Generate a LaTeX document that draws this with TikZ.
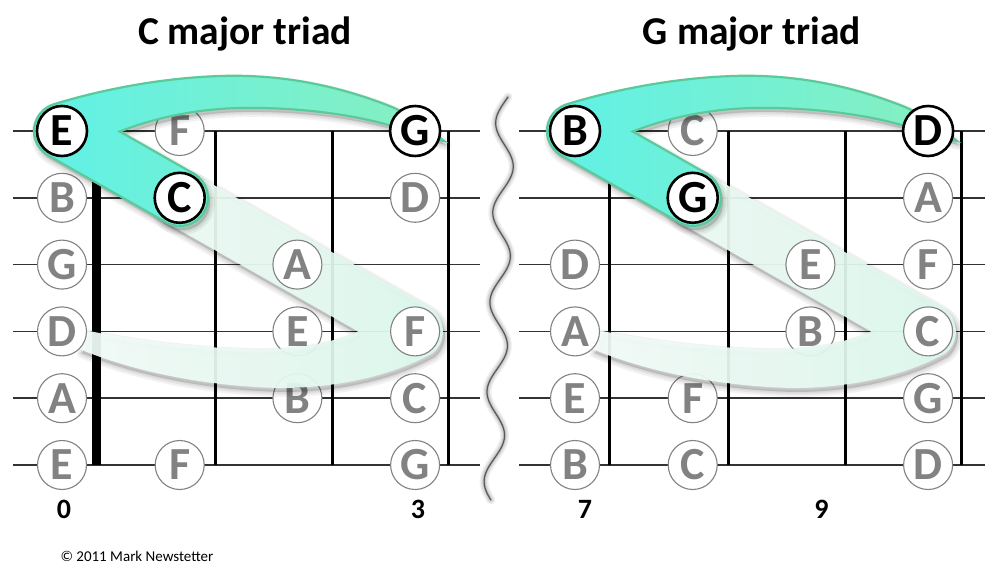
\documentclass[tikz,border=0pt]{standalone}
\usepackage{fontspec}
\setmainfont{Carlito}
\definecolor{bandcyan}{HTML}{5FF1E8}
\definecolor{bandmint}{HTML}{88EFBE}
\definecolor{bandedge}{HTML}{5CC99A}
\definecolor{palemintL}{HTML}{F4FDF9}
\definecolor{palemintR}{HTML}{DCF9EC}
\definecolor{notegray}{HTML}{828282}
\tikzset{
  title/.style={font=\fontsize{39.5}{40}\selectfont\bfseries,anchor=base},
  note/.style={circle,minimum size=49pt,inner sep=0pt,fill=white,draw=notegray,
               line width=1.1pt,text=notegray,font=\fontsize{46}{46}\selectfont\bfseries},
  chordnote/.style={note,minimum size=50pt,draw=black,line width=2.6pt,text=black},
  string/.style={line width=1.6pt,black!80},
  fret/.style={line width=3pt},
  nut/.style={line width=9pt},
  fretnum/.style={font=\fontsize{28}{28}\selectfont\bfseries,anchor=base},
  bandshadow/.style={draw=black,fill=black,opacity=0.05,line join=round},
  tealband/.style={left color=bandcyan,right color=bandmint,draw=bandedge,line width=2.2pt},
  paleband/.style={left color=palemintL,right color=palemintR,opacity=0.93},
}
\begin{document}
\begin{tikzpicture}[x=1pt,y=-1pt]
  \useasboundingbox (0,0) rectangle (999,575);
  % ribbon outlines, board coordinates (y downwards)
  \def\tealpath{(444,141) .. controls (425,126) and (408,113) .. (387,105)
    .. controls (335,85) and (280,74) .. (220,76)
    .. controls (160,78) and (100,90) .. (53.3,104.4)
    arc[start angle=252,end angle=119.6,radius=28] -- (166.2,222.4)
    arc[start angle=119.6,end angle=-60.4,radius=28] -- (119.7,131.5)
    .. controls (160,116) and (200,109) .. (240,108)
    .. controls (300,107) and (355,115) .. (392,126)
    .. controls (415,133) and (432,139) .. (444,141) -- cycle}
  \def\palepath{(193.8,173.6) -- (428.8,307.1)
    arc[start angle=-60.4,end angle=50,radius=28]
    .. controls (400,372) and (345,388) .. (280,388)
    .. controls (200,386) and (130,370) .. (79.7,349.1)
    arc[start angle=45,end angle=-2,radius=25]
    .. controls (150,344) and (240,352) .. (290,348)
    .. controls (320,345) and (340,339) .. (358.3,331.5) -- (166.2,222.4)
    arc[start angle=119.6,end angle=299.6,radius=28] -- cycle}

  \node[title] (ctitle) at (245,45) {C major triad};
  \node[title] (gtitle) at (752,45) {G major triad};

  % C major, frets 0-3
  \begin{scope}
    \foreach \s in {0,...,5} \draw[string] (13,131+66.8*\s) -- (480,131+66.8*\s);
    \draw[nut] (96,131) -- (96,465);
    \foreach \f in {215,332,448} \draw[fret] (\f,131) -- (\f,465);
    \foreach \s/\c/\lab in {1/1/F,2/0/B,2/3/D,3/0/G,4/2/E,
                            5/0/A,5/2/B,5/3/C,6/0/E,6/1/F,6/3/G}
      \node[note] (c\s\c) at (62+117.7*\c,64.2+66.8*\s) {\lab};
    \foreach \w in {10,6,3} \path[bandshadow,line width=\w,shift={(2,4)}] \palepath;
    \path[paleband] \palepath;
    \node[note] (c32) at (297.4,264.6) {A};
    \node[note] (c40) at (62,331.4) {D};
    \node[note] (c43) at (415.1,331.4) {F};
    \foreach \w in {10,6,3} \path[bandshadow,line width=\w,shift={(2,4)}] \tealpath;
    \path[tealband] \tealpath;
    \node[chordnote] (cE) at (62,131) {E};
    \node[chordnote] (cC) at (179.7,197.8) {C};
    \node[chordnote] (cG) at (415.1,131) {G};
    \node[fretnum] (cfret0) at (64,518) {0};
    \node[fretnum] (cfret3) at (418,518) {3};
  \end{scope}

  % G major, frets 7-10
  \begin{scope}[shift={(513,0)}]
    \foreach \s in {0,...,5} \draw[string] (6,131+66.8*\s) -- (472,131+66.8*\s);
    \foreach \f in {96,215,332,448} \draw[fret] (\f,131) -- (\f,465);
    \foreach \s/\c/\lab in {1/1/C,2/3/A,3/0/D,3/3/F,4/2/B,
                            5/0/E,5/1/F,5/3/G,6/0/B,6/1/C,6/3/D}
      \node[note] (g\s\c) at (62+117.7*\c,64.2+66.8*\s) {\lab};
    \foreach \w in {10,6,3} \path[bandshadow,line width=\w,shift={(2,4)}] \palepath;
    \path[paleband] \palepath;
    \node[note] (g32) at (297.4,264.6) {E};
    \node[note] (g40) at (62,331.4) {A};
    \node[note] (g43) at (415.1,331.4) {C};
    \foreach \w in {10,6,3} \path[bandshadow,line width=\w,shift={(2,4)}] \tealpath;
    \path[tealband] \tealpath;
    \node[chordnote] (gB) at (62,131) {B};
    \node[chordnote] (gG) at (179.7,197.8) {G};
    \node[chordnote] (gD) at (415.1,131) {D};
    \node[fretnum] (gfret7) at (72,518) {7};
    \node[fretnum] (gfret9) at (308.5,518) {9};
  \end{scope}

  % break between the two boards
  \foreach \w/\o in {9/0.06,6/0.08,3/0.12}
    \draw[black,opacity=\o,line width=\w,line cap=round]
      plot[domain=97:500,samples=160,smooth]
      ({506-0.03226*(\x-97)+9.5*cos(4.0179*(\x-97)+78)},\x);
  \draw[black!65,line width=1.2pt,line cap=round]
    plot[domain=97:500,samples=160,smooth]
    ({506-0.03226*(\x-97)+9.5*cos(4.0179*(\x-97)+78)},\x);

  \node[font=\fontsize{15}{15}\selectfont,anchor=base west] (credit) at (57,561)
    {© 2011 Mark Newstetter};
\end{tikzpicture}
\end{document}
